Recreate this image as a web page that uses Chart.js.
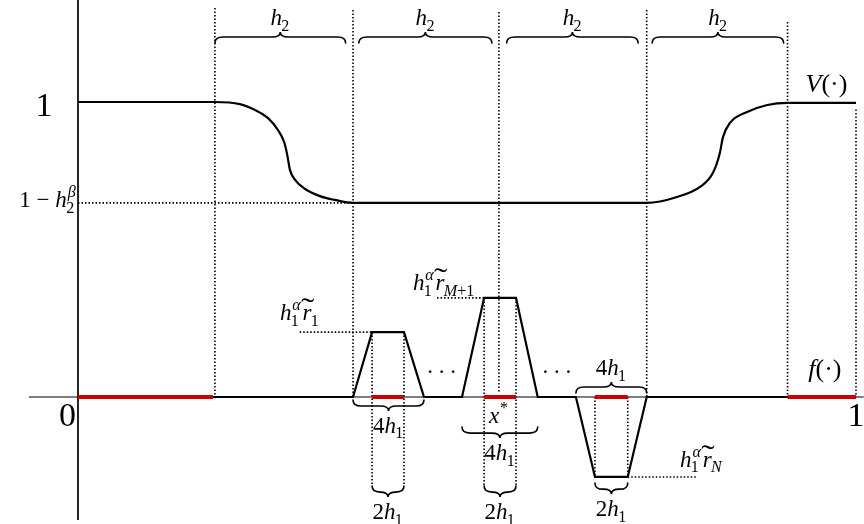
<!DOCTYPE html>
<html>
<head>
<meta charset="utf-8">
<script src="https://cdn.jsdelivr.net/npm/chart.js@4"></script>
<style>
  body { margin: 0; background: #fff; }
  canvas { display: block; }
</style>
</head>
<body>
<canvas id="chart" width="864" height="524"></canvas>
<script>
// V(.) - smooth step down and back up
const vX = [0, 0.176, 0.208, 0.2275, 0.244, 0.257, 0.265, 0.269, 0.2725, 0.279, 0.292, 0.311, 0.330, 0.3535,
            0.731, 0.770, 0.7995, 0.816, 0.825, 0.829, 0.838, 0.860, 0.886, 0.9126, 1.0];
const vY = [1, 1, 0.993, 0.973, 0.946, 0.905, 0.864, 0.820, 0.769, 0.736, 0.705, 0.681, 0.668, 0.658,
            0.658, 0.678, 0.712, 0.759, 0.827, 0.881, 0.929, 0.966, 0.990, 0.997, 0.997];

// f(.) - trapezoid bumps
const fX = [0, 0.3535, 0.378, 0.419, 0.4447, 0.4936, 0.522, 0.563, 0.5909, 0.640, 0.6645, 0.7066, 0.731, 1.0];
const fY = [0, 0, 0.22, 0.22, 0, 0, 0.336, 0.336, 0, 0, -0.271, -0.271, 0, 0];

// red intervals on the x axis
const redSegments = [[0, 0.1735], [0.378, 0.419], [0.522, 0.563], [0.6645, 0.7066], [0.912, 1.0]];

// dotted guides [x0, y0, x1, y1]
const dotted = [
  [0.176, 1.319, 0.176, 0], [0.3535, 1.312, 0.3535, 0], [0.541, 1.305, 0.541, 0.017],
  [0.731, 1.312, 0.731, 0], [0.912, 1.271, 0.912, 0], [1.0, 0.975, 1.0, 0],
  [0.378, 0.22, 0.378, -0.30], [0.419, 0.22, 0.419, -0.30],
  [0.522, 0.336, 0.522, -0.30], [0.563, 0.336, 0.563, -0.30],
  [0.6645, 0, 0.6645, -0.271], [0.7066, 0, 0.7066, -0.271],
  [0, 0.658, 0.3535, 0.658], [0.285, 0.22, 0.378, 0.22],
  [0.4615, 0.336, 0.522, 0.336], [0.7066, -0.271, 0.7956, -0.271]
];

// axes extents
const xAxisRange = [-0.063, 1.01];
const yAxisRange = [-0.417, 1.346];

// braces: span, end height, direction, label
const braces = [
  { x0: 0.176, x1: 0.344, y: 1.20, up: true, label: 'h2' },
  { x0: 0.361, x1: 0.532, y: 1.20, up: true, label: 'h2' },
  { x0: 0.551, x1: 0.720, y: 1.20, up: true, label: 'h2' },
  { x0: 0.738, x1: 0.907, y: 1.20, up: true, label: 'h2' },
  { x0: 0.3535, x1: 0.4447, y: -0.010, up: false, label: '4h1' },
  { x0: 0.4936, x1: 0.5909, y: -0.102, up: false, label: '4h1' },
  { x0: 0.378, x1: 0.419, y: -0.302, up: false, label: '2h1' },
  { x0: 0.522, x1: 0.563, y: -0.302, up: false, label: '2h1' },
  { x0: 0.640, x1: 0.731, y: 0.0136, up: true, label: '4h1' },
  { x0: 0.6645, x1: 0.7066, y: -0.292, up: false, label: '2h1' }
];

const math = {
  h2: [{ t: 'h', it: true, sub: '2' }],
  '4h1': [{ t: '4' }, { t: 'h', it: true, sub: '1' }],
  '2h1': [{ t: '2' }, { t: 'h', it: true, sub: '1' }],
  oneMinus: [{ t: '1' }, { t: ' \u2212 ' }, { t: 'h', it: true, sub: '2', sup: '\u03b2' }],
  V: [{ t: 'V', it: true }, { t: '(\u00b7)' }],
  f: [{ t: 'f', it: true }, { t: '(\u00b7)' }],
  r1: [{ t: 'h', it: true, sub: '1', sup: '\u03b1', gap: true }, { t: 'r', it: true, tilde: true, sub: '1' }],
  rM: [{ t: 'h', it: true, sub: '1', sup: '\u03b1', gap: true }, { t: 'r', it: true, tilde: true, sub: 'M+1' }],
  rN: [{ t: 'h', it: true, sub: '1', sup: '\u03b1', gap: true }, { t: 'r', it: true, tilde: true, sub: 'N' }],
  xs: [{ t: 'x', it: true, sup: '*' }],
  one: [{ t: '1' }],
  zero: [{ t: '0' }],
  dots: [{ t: '. . .' }]
};

// free labels: [key, x, baseline y, size, align]
const labels = [
  ['one', -0.0437, 0.9525, 34, 'center'],
  ['zero', -0.0135, -0.0983, 34, 'center'],
  ['one', 1.0, -0.0983, 34, 'center'],
  ['oneMinus', -0.004, 0.644, 23, 'right'],
  ['V', 0.962, 1.034, 26, 'center'],
  ['f', 0.960, 0.068, 26, 'center'],
  ['r1', 0.285, 0.261, 23, 'center'],
  ['rM', 0.4704, 0.3627, 23, 'center'],
  ['rN', 0.801, -0.237, 23, 'center'],
  ['xs', 0.540, -0.088, 23, 'center'],
  ['dots', 0.4675, 0.081, 23, 'center'],
  ['dots', 0.6155, 0.081, 23, 'center']
];

const FONT = '"Liberation Serif", "DejaVu Serif", serif';
function setFont(ctx, size, it) {
  ctx.font = (it ? 'italic ' : '') + size + 'px ' + FONT;
}

function script(ctx, str, size, draw, x, y) {
  let w = 0;
  for (const ch of str) {
    setFont(ctx, size, /[A-Za-z\u03b1-\u03c9]/.test(ch));
    if (draw) ctx.fillText(ch, x + w, y);
    w += ctx.measureText(ch).width;
  }
  return w;
}

function layout(ctx, tokens, size, draw, x0, y) {
  let x = x0;
  for (const tk of tokens) {
    setFont(ctx, size, tk.it);
    const bw = ctx.measureText(tk.t).width;
    if (draw) {
      ctx.fillText(tk.t, x, y);
      if (tk.tilde) {
        // wide tilde accent over r
        ctx.save();
        ctx.translate(x + bw * 0.58, y - size * 0.12);
        ctx.scale(1.45, 1);
        setFont(ctx, size * 1.2, false);
        ctx.textAlign = 'center';
        ctx.fillText('\u02dc', 0, 0);
        ctx.restore();
      }
    }
    x += bw;
    let sw = 0;
    if (tk.sub) sw = Math.max(sw, script(ctx, tk.sub, size * 0.7, draw, x - (tk.it ? size * 0.03 : 0), y + size * 0.24));
    if (tk.sup) sw = Math.max(sw, script(ctx, tk.sup, size * 0.7, draw, x + (tk.it ? size * 0.04 : 0), y - size * 0.42));
    x += sw + (tk.gap ? size * 0.12 : 0);
  }
  return x - x0;
}

function drawMath(ctx, tokens, x, y, size, align) {
  ctx.textAlign = 'left';
  ctx.textBaseline = 'alphabetic';
  const w = layout(ctx, tokens, size, false, 0, 0);
  const start = align === 'center' ? x - w / 2 : align === 'right' ? x - w : x;
  layout(ctx, tokens, size, true, start, y);
}

function drawBrace(ctx, x0, x1, y, up) {
  const s = up ? -1 : 1, d = 6, t = 5;
  const xm = (x0 + x1) / 2;
  const r = Math.min(8, (x1 - x0) / 4);
  const yl = y + s * d;
  ctx.beginPath();
  ctx.moveTo(x0, y);
  ctx.quadraticCurveTo(x0, yl, x0 + r, yl);
  ctx.lineTo(xm - r, yl);
  ctx.quadraticCurveTo(xm, yl, xm, yl + s * t);
  ctx.quadraticCurveTo(xm, yl, xm + r, yl);
  ctx.lineTo(x1 - r, yl);
  ctx.quadraticCurveTo(x1, yl, x1, y);
  ctx.stroke();
  return yl + s * t;
}

const annotations = {
  id: 'annotations',
  afterDatasetsDraw(chart) {
    const { ctx, scales } = chart;
    const px = v => scales.x.getPixelForValue(v);
    const py = v => scales.y.getPixelForValue(v);
    ctx.save();
    ctx.strokeStyle = '#000';
    ctx.fillStyle = '#000';
    ctx.lineWidth = 1.6;
    ctx.lineCap = 'round';
    for (const b of braces) {
      const tip = drawBrace(ctx, px(b.x0), px(b.x1), py(b.y), b.up);
      const base = b.up ? tip - 7 : tip + 22;
      drawMath(ctx, math[b.label], (px(b.x0) + px(b.x1)) / 2, base, 23, 'center');
    }
    for (const [key, x, y, size, align] of labels) {
      drawMath(ctx, math[key], px(x), py(y), size, align);
    }
    ctx.restore();
  }
};

const line = (pts, color, width, extra) => Object.assign({
  data: pts, showLine: true, fill: false, pointRadius: 0,
  borderColor: color, borderWidth: width, tension: 0
}, extra || {});

// first dataset is drawn on top
const datasets = [];
redSegments.forEach(([a, b]) => datasets.push(line([{ x: a, y: 0 }, { x: b, y: 0 }], '#cc0000', 4)));
datasets.push(line(fX.map((x, i) => ({ x, y: fY[i] })), '#000', 2.2));
datasets.push(line(vX.map((x, i) => ({ x, y: vY[i] })), '#000', 2.2, { cubicInterpolationMode: 'monotone' }));
dotted.forEach(([x0, y0, x1, y1]) => datasets.push(line([{ x: x0, y: y0 }, { x: x1, y: y1 }], '#000', 1.6, { borderDash: [1.5, 2.0] })));
datasets.push(line([{ x: xAxisRange[0], y: 0 }, { x: xAxisRange[1], y: 0 }], '#000', 1.1));
datasets.push(line([{ x: 0, y: yAxisRange[0] }, { x: 0, y: yAxisRange[1] }], '#000', 1.7));

new Chart(document.getElementById('chart'), {
  type: 'scatter',
  data: { datasets },
  options: {
    responsive: false,
    animation: false,
    events: [],
    layout: { padding: 0 },
    plugins: { legend: { display: false }, tooltip: { enabled: false } },
    scales: {
      x: { type: 'linear', min: -78 / 778, max: 786 / 778, display: false },
      y: { type: 'linear', min: -127 / 295, max: 397 / 295, display: false }
    }
  },
  plugins: [annotations]
});
</script>
</body>
</html>
